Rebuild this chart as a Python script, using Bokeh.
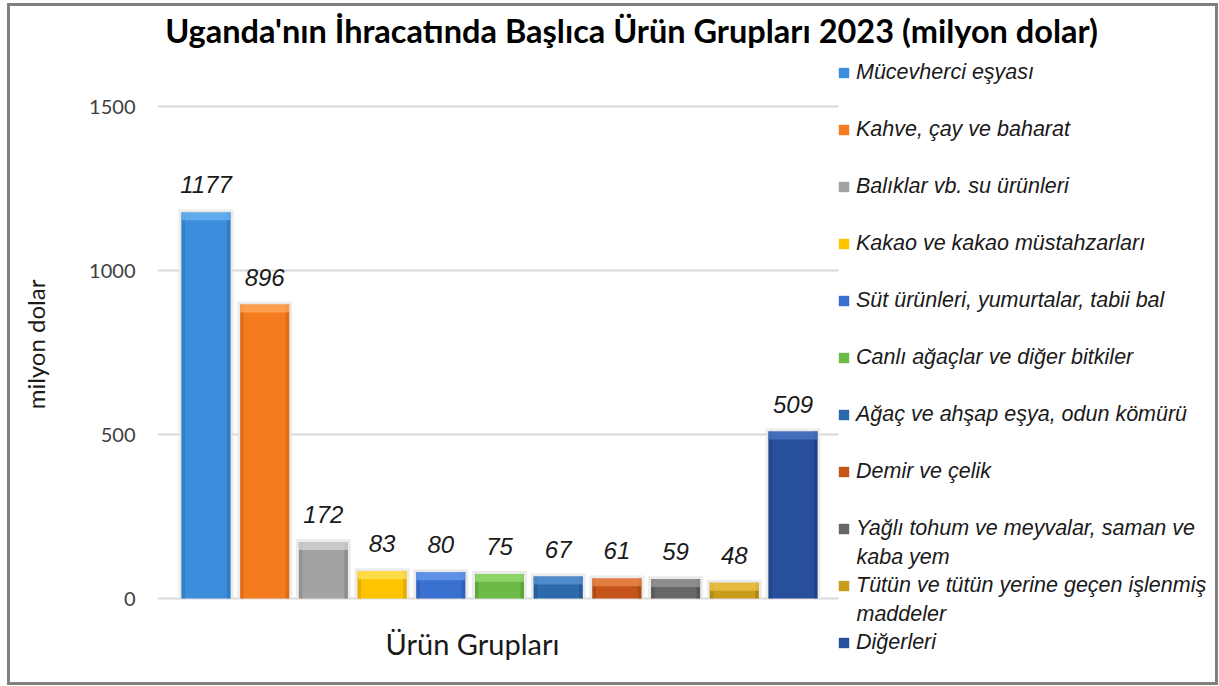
from bokeh.plotting import figure
from bokeh.models import Range1d, Label, LabelSet, Legend, LegendItem, ColumnDataSource, FixedTicker
from bokeh.core.properties import value
from bokeh.embed import file_html
from bokeh.resources import INLINE

categories = ["Mücevherci eşyası", "Kahve, çay ve baharat", "Balıklar vb. su ürünleri",
              "Kakao ve kakao müstahzarları", "Süt ürünleri, yumurtalar, tabii bal",
              "Canlı ağaçlar ve diğer bitkiler", "Ağaç ve ahşap eşya, odun kömürü",
              "Demir ve çelik", "Yağlı tohum ve meyvalar, saman ve",
              "Tütün ve tütün yerine geçen işlenmiş", "Diğerleri"]
# second lines of the wrapped legend labels: (item index, text)
wrapped = [(8, "kaba yem"), (9, "maddeler")]
values = [1177, 896, 172, 83, 80, 75, 67, 61, 59, 48, 509]
base_colors = ["#3b8edb", "#f57c1e", "#a3a3a3", "#ffc400", "#3a70d0", "#6cbb46",
               "#2b6aab", "#c4541a", "#676767", "#c99c1c", "#274f9b"]
light_colors = ["#6cb4f0", "#ffab5c", "#d4d4d4", "#ffe35c", "#6c9eef", "#98dc72",
                "#5b97d4", "#ee8c4c", "#9a9a9a", "#ecc74c", "#4e78c4"]
dark_colors = ["#2a6fb0", "#c85e12", "#7d7d7d", "#c99a00", "#2a55a8", "#4f9330",
               "#1f4f85", "#94400f", "#4b4b4b", "#98740e", "#1c3b76"]
y_ticks = [0, 500, 1000, 1500]
title_text = "Uganda'nın İhracatında Başlıca Ürün Grupları 2023 (milyon dolar)"
x_title = "Ürün Grupları"
y_title = "milyon dolar"

FONT = "Lato"
IFONT = "Liberation Sans"
BAR_W = 0.835
BEVEL = 24  # data units (~8 px)

# geometry (canvas pixels are page pixels minus (10, 6))
PX_X = 58.7      # px per category
PX_Y = 0.328     # px per million dollars
FRAME_W = 1058
FRAME_H = 676
ZERO_Y = 598 - 6  # canvas y of value 0
X0 = -0.826
Y1 = ZERO_Y / PX_Y
x_range = Range1d(X0, X0 + FRAME_W / PX_X)
y_range = Range1d(Y1 - FRAME_H / PX_Y, Y1)
GRID_END = 10.775

LEG_X, LEG_Y, ROW_H, GLYPH, STAND = 680, 11, 57, 13, 6

xs = list(range(len(values)))
src = ColumnDataSource(dict(
    x=xs, top=values, color=base_colors, light=light_colors, dark=dark_colors,
    label=[str(v) for v in values],
    bevel_bottom=[max(v - BEVEL, 0) for v in values],
    shadow_top=[v + 9 for v in values],
    left_x=[x - BAR_W / 2 + 0.03 for x in xs],
    right_x=[x + BAR_W / 2 - 0.03 for x in xs],
))

p = figure(frame_width=FRAME_W, frame_height=FRAME_H, x_range=x_range, y_range=y_range,
           output_backend="svg", toolbar_location=None,
           min_border_left=147, min_border_right=0, min_border_top=0, min_border_bottom=0,
           styles={"border": "3px solid #808080", "margin-left": "7px", "margin-top": "3px"})

p.outline_line_color = None
p.xaxis.visible = False
p.xgrid.grid_line_color = None
p.ygrid.grid_line_color = None

ya = p.yaxis[0]
ya.ticker = FixedTicker(ticks=y_ticks)
ya.axis_line_color = None
ya.major_tick_line_color = None
ya.minor_tick_line_color = None
ya.major_label_text_font = FONT
ya.major_label_text_font_size = "20px"
ya.major_label_text_color = "#404040"
ya.major_label_standoff = 16
ya.axis_label = y_title
ya.axis_label_text_font = FONT
ya.axis_label_text_font_size = "24px"
ya.axis_label_text_font_style = "normal"
ya.axis_label_text_color = "#1a1a1a"
ya.axis_label_standoff = 36

# horizontal gridlines at the tick values, ending at the plot area's right edge
grid_src = ColumnDataSource(dict(y=y_ticks, x0=[X0] * len(y_ticks), x1=[GRID_END] * len(y_ticks)))
p.segment(x0="x0", x1="x1", y0="y", y1="y", source=grid_src, line_color="#d9d9d9", line_width=2)

# soft shadow
p.vbar(x="x", top="shadow_top", bottom=0, width=BAR_W + 0.1, source=src,
       fill_color="#e6e6e6", fill_alpha=0.8, line_color=None)
# main bar
bars = p.vbar(x="x", top="top", bottom=0, width=BAR_W, source=src,
              fill_color="color", line_color=None)
# side shading
p.vbar(x="left_x", top="top", bottom=0, width=0.06, source=src,
       fill_color="dark", fill_alpha=0.45, line_color=None)
p.vbar(x="right_x", top="top", bottom=0, width=0.06, source=src,
       fill_color="dark", fill_alpha=0.55, line_color=None)
# top bevel
p.vbar(x="x", top="top", bottom="bevel_bottom", width=BAR_W, source=src,
       fill_color="light", fill_alpha=0.75, line_color=None)

labels = LabelSet(x="x", y="top", text="label", source=src, y_offset=19,
                  text_align="center", text_baseline="alphabetic",
                  text_font=value(IFONT), text_font_size=value("24px"),
                  text_font_style=value("italic"), text_color=value("#1a1a1a"))
p.add_layout(labels)

# chart title
p.add_layout(Label(x=7.25, y=(598 - 30) / PX_Y, text=title_text, text_align="center",
                   text_baseline="alphabetic", text_font=FONT, text_font_size="32.5px",
                   text_font_style="bold", text_color="#000000"))
# category axis title
p.add_layout(Label(x=4.54, y=-(643 - 598) / PX_Y, text=x_title, text_align="center",
                   text_baseline="middle", text_font=FONT, text_font_size="29px",
                   text_color="#1a1a1a"))

items = [LegendItem(label=c, renderers=[bars], index=i) for i, c in enumerate(categories)]
legend = Legend(items=items, location=(LEG_X, LEG_Y), orientation="vertical",
                glyph_width=GLYPH, glyph_height=GLYPH, label_standoff=STAND, label_height=ROW_H,
                spacing=0, padding=0, margin=0,
                label_text_font=IFONT, label_text_font_size="21.5px",
                label_text_font_style="italic", label_text_color="#1a1a1a",
                border_line_color=None, background_fill_alpha=0)
p.add_layout(legend, "center")

# continuation lines of the wrapped legend labels, half a row below their item
n = len(categories)
for idx, txt in wrapped:
    row_center_px = LEG_Y + ROW_H * (n - idx) - ROW_H / 2 - 28   # from frame bottom
    p.add_layout(Label(x=X0 + (LEG_X + GLYPH + STAND) / PX_X,
                       y=y_range.start + row_center_px / PX_Y,
                       text=txt, text_align="left", text_baseline="middle",
                       text_font=IFONT, text_font_size="21.5px", text_font_style="italic",
                       text_color="#1a1a1a"))

open("out.html", "w").write(file_html(p, INLINE))
